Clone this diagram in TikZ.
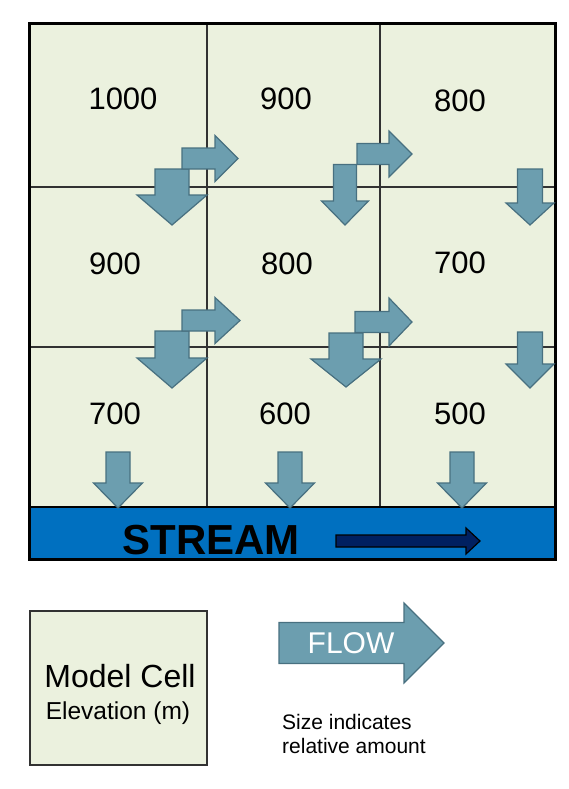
\documentclass[tikz,border=0pt]{standalone}
\usepackage{fontspec}
\setmainfont{Liberation Sans}
\definecolor{cellfill}{RGB}{235,241,222}
\definecolor{arrfill}{RGB}{108,158,175}
\definecolor{arrline}{RGB}{72,112,128}
\definecolor{streamblue}{RGB}{0,112,192}
\definecolor{navy}{RGB}{0,32,96}
\definecolor{gridline}{RGB}{50,50,50}
\newcommand\RArr[7][flowarr]{\draw[#1] (#2,{#5-#6}) -- (#3,{#5-#6}) -- (#3,{#5-#7}) -- (#4,#5) -- (#3,{#5+#7}) -- (#3,{#5+#6}) -- (#2,{#5+#6}) -- cycle;}
\newcommand\DArr[6]{\draw[flowarr] ({#1-#5},#2) -- ({#1+#5},#2) -- ({#1+#5},#3) -- ({#1+#6},#3) -- (#1,#4) -- ({#1-#6},#3) -- ({#1-#5},#3) -- cycle;}
\begin{document}
\begin{tikzpicture}[x=1pt,y=-1pt,
  flowarr/.style={fill=arrfill,draw=arrline,line width=1.2pt,line join=miter},
  navyarr/.style={fill=navy,draw=black,line width=1.2pt},
  num/.style={anchor=base,font=\fontsize{31}{36}\selectfont,inner sep=0pt},
  gl/.style={draw=gridline,line width=2pt}]
\useasboundingbox (0,0) rectangle (569,789);
\fill[white] (0,0) rectangle (569,789);
% cells
\fill[cellfill] (29,24) rectangle (555,507);
\draw[gl] (207,24) -- (207,507);
\draw[gl] (380,24) -- (380,507);
\draw[gl] (29,187) -- (555,187);
\draw[gl] (29,347) -- (555,347);
% elevations
\node[num] (c11) at (123,110) {1000};
\node[num] (c12) at (286,110) {900};
\node[num] (c13) at (460,111) {800};
\node[num] (c21) at (115,274) {900};
\node[num] (c22) at (287,274) {800};
\node[num] (c23) at (460,273) {700};
\node[num] (c31) at (115,424) {700};
\node[num] (c32) at (285,424) {600};
\node[num] (c33) at (460,424) {500};
% stream
\draw[fill=streamblue,draw=black,line width=2.5pt] (29,507) rectangle (555,559);
\draw[black,line width=3pt] (29,24) rectangle (555,559);
\node[anchor=base,font=\fontsize{42}{46}\selectfont\bfseries,inner sep=0pt] (stream) at (211,554) {STREAM};
\RArr[navyarr]{336}{466}{480}{541}{6}{13}
% row 1 arrows
\DArr{172}{169}{195}{225}{17}{35}
\RArr{182}{215}{238}{158.5}{10.5}{23}
\DArr{345}{164.5}{201}{225}{11.5}{23.5}
\RArr{357}{389}{412}{154}{10.5}{23}
\DArr{530}{169}{203}{225}{12.5}{24}
% row 2 arrows
\DArr{172}{331}{358}{388}{17}{35}
\RArr{182}{215}{240}{320.5}{10.5}{23}
\DArr{346}{333}{359}{387}{17}{35}
\RArr{355}{389}{412}{322}{10.5}{24}
\DArr{530}{332}{364}{388}{12.5}{24}
% row 3 arrows
\DArr{118}{452}{483}{508}{12}{24.5}
\DArr{290}{452}{483}{508}{12}{24.5}
\DArr{462}{452}{483}{508}{12}{24.5}
% legend
\draw[fill=cellfill,draw=gridline,line width=2pt] (30,611) rectangle (207,765);
\node[anchor=base,font=\fontsize{32}{36}\selectfont,inner sep=0pt] (mc) at (120,687) {Model Cell};
\node[anchor=base,font=\fontsize{24.5}{28}\selectfont,inner sep=0pt] (el) at (118,719) {Elevation (m)};
\RArr{279}{404}{444}{643}{20.5}{40}
\node[anchor=base,font=\fontsize{30}{34}\selectfont,text=white,inner sep=0pt] (flow) at (351,653) {FLOW};
\node[anchor=base west,font=\fontsize{21}{24}\selectfont,inner sep=0pt] (s1) at (282,729) {Size indicates};
\node[anchor=base west,font=\fontsize{21}{24}\selectfont,inner sep=0pt] (s2) at (282,753) {relative amount};
\end{tikzpicture}
\end{document}
